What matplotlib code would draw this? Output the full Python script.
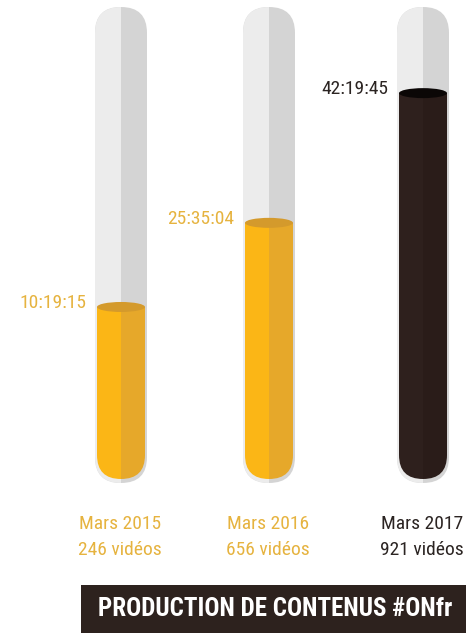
import matplotlib
matplotlib.use('Agg')
import matplotlib.pyplot as plt
from matplotlib.patches import FancyBboxPatch, Ellipse, Rectangle

# ---- data ----
periods = ['Mars 2015', 'Mars 2016', 'Mars 2017']
video_counts = [246, 656, 921]
durations = ['10:19:15', '25:35:04', '42:19:45']
fill_levels = [36.6, 54.5, 82.1]   # % of tube filled (as drawn)
title = 'PRODUCTION DE CONTENUS #ONfr'

# ---- style ----
plt.rcParams['font.family'] = ['Roboto Condensed', 'DejaVu Sans']
glass_left, glass_right = '#ececec', '#d4d4d4'
liquid_left = ['#fbb616', '#fbb616', '#2e201d']
liquid_right = ['#e6a82a', '#e6a82a', '#2a1c19']
liquid_top = ['#d49a2c', '#d49a2c', '#0b0706']
label_col = ['#e6b33f', '#e6b33f', '#2b2422']
bar_col = '#2d221e'

W, H = 466, 633
fig = plt.figure(figsize=(W / 100, H / 100), dpi=100)
ax = fig.add_axes([0, 0, 1, 1])
ax.set_xlim(0, W)
ax.set_ylim(H, 0)
ax.axis('off')

centers = [121, 269, 423]
tube_w, tube_top, tube_bot = 52, 7, 483
inner_w, inner_top, inner_bot = 48, 9, 479
span = inner_bot - inner_top

# level axes: 0..100 % mapped onto tube interior
lv = fig.add_axes([0, 0, 1, 1])
lv.set_xlim(0, W)
lv.set_ylim((inner_bot - H) / span * 100, inner_bot / span * 100)
lv.axis('off')
lv.patch.set_alpha(0)

for i, cx in enumerate(centers):
    # glass tube
    outer = FancyBboxPatch((cx - tube_w / 2, tube_top), tube_w, tube_bot - tube_top,
                           boxstyle=f'round,pad=0,rounding_size={tube_w / 2}',
                           fc=glass_right, ec='none')
    ax.add_patch(outer)
    outer_l = FancyBboxPatch((cx - tube_w / 2, tube_top), tube_w, tube_bot - tube_top,
                             boxstyle=f'round,pad=0,rounding_size={tube_w / 2}',
                             fc=glass_left, ec='none')
    ax.add_patch(outer_l)
    clip_l = Rectangle((cx - tube_w / 2 - 2, 0), tube_w / 2 + 2, H, transform=ax.transData)
    outer_l.set_clip_path(clip_l)

    # liquid
    inner = FancyBboxPatch((cx - inner_w / 2, inner_top), inner_w, span,
                           boxstyle=f'round,pad=0,rounding_size={inner_w / 2}',
                           transform=ax.transData)
    lvl = fill_levels[i]
    b1 = lv.bar(cx - inner_w / 2, lvl + 10, bottom=-10, width=inner_w / 2, align='edge',
                color=liquid_left[i], linewidth=0)
    b2 = lv.bar(cx, lvl + 10, bottom=-10, width=inner_w / 2, align='edge',
                color=liquid_right[i], linewidth=0)
    for p in list(b1) + list(b2):
        p.set_clip_path(inner)
    lv.add_patch(Ellipse((cx, lvl), inner_w, 10 / span * 100, fc=liquid_top[i], ec='none'))

    # duration label
    lv.annotate(durations[i], (cx - tube_w / 2, lvl), xytext=(-6.5, 3), textcoords='offset points',
                ha='right', va='center', fontsize=14, fontweight='normal', color=label_col[i])

    # bottom labels
    ax.text(cx - 1, 524, periods[i], ha='center', va='center', fontsize=14,
            color=label_col[i])
    ax.text(cx - 1, 550, f'{video_counts[i]} vidéos', ha='center', va='center',
            fontsize=14, color=label_col[i])

# title banner
ax.add_patch(Rectangle((81, 585), W - 81, H - 585, fc=bar_col, ec='none'))
ax.text(275, 609, title, ha='center', va='center', fontsize=18, fontweight='bold', color='white')

fig.savefig('out.png', dpi=100, facecolor='white')
